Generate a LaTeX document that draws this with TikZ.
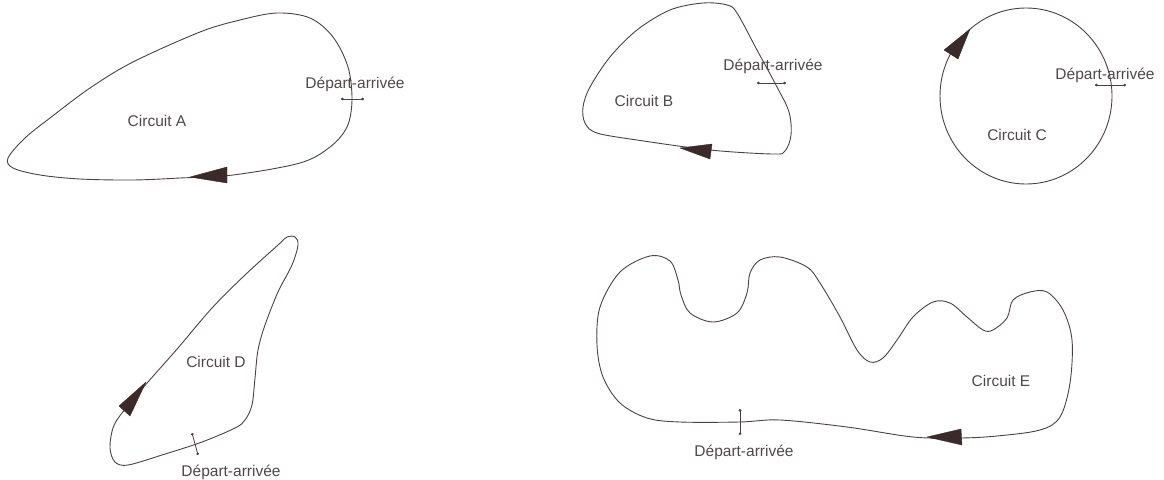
\documentclass[tikz,border=0pt]{standalone}
\usepackage{fontspec}
\setmainfont{Liberation Sans}
\usetikzlibrary{arrows.meta}
\definecolor{trackcol}{RGB}{78,64,64}
\definecolor{labelcol}{RGB}{80,72,72}
\definecolor{headcol}{RGB}{58,42,42}
\tikzset{
  track/.style={draw=trackcol, line width=0.9pt, line join=round},
  arrowhead/.style={fill=headcol, draw=headcol, line width=0.4pt, line join=round},
  tick/.style={draw=trackcol, line width=0.8pt, {Circle[length=2.6pt]}-{Circle[length=2.6pt]}},
  lbl/.style={text=labelcol, inner sep=0pt, font=\fontsize{15.5}{18}\selectfont}
}
\begin{document}
\begin{tikzpicture}[x=1pt, y=-1pt]
\useasboundingbox (0,0) rectangle (1164,479);

% ---- Circuit A ----
\draw[track] plot[smooth cycle, tension=0.55] coordinates {
  (8,158) (25,138) (50,118) (90,88) (133,62) (200,32) (240,20) (277,13)
  (310,18) (333,37) (348,67) (352,100) (347,127) (330,147) (300,163)
  (233,175) (180,178) (133,180) (80,179) (40,175) (13,168)};
\fill[arrowhead] (190,177) -- (227,167) -- (227,183) -- cycle;
\coordinate (ta1) at (341,99);
\coordinate (ta2) at (364,99);
\draw[tick] (ta1) -- (ta2);
\node[lbl] (nameA) at (157,121) {Circuit A};
\node[lbl] (startA) at (355,84) {Départ-arrivée};

% ---- Circuit B ----
\draw[track] plot[smooth cycle, tension=0.55] coordinates {
  (703,3) (727,5) (737,13) (757,50) (777,87) (789,112) (791,135)
  (785,151) (773,154) (710,150) (637,140) (597,133) (585,123) (583,107)
  (590,87) (610,57) (637,30) (670,10)};
\fill[arrowhead] (680,148) -- (712,144) -- (710,159) -- cycle;
\coordinate (tb1) at (757,83);
\coordinate (tb2) at (786,83);
\draw[tick] (tb1) -- (tb2);
\node[lbl] (nameB) at (644,101) {Circuit B};
\node[lbl] (startB) at (773,66) {Départ-arrivée};

% ---- Circuit C ----
\draw[track] (1026,96) ellipse [x radius=86pt, y radius=88pt];
\fill[arrowhead] (970,29) -- (944,50) -- (958,59) -- cycle;
\coordinate (tc1) at (1095,85);
\coordinate (tc2) at (1126,85);
\draw[tick] (tc1) -- (tc2);
\node[lbl] (nameC) at (1017,135) {Circuit C};
\node[lbl] (startC) at (1105,75) {Départ-arrivée};

% ---- Circuit D ----
\draw[track] plot[smooth cycle, tension=0.55] coordinates {
  (110,448) (113,428) (122,413) (148,382) (178,348) (212,308) (245,275)
  (278,245) (287,237) (295,237) (298,245) (292,265) (278,292) (265,325)
  (258,350) (255,378) (252,405) (245,420) (235,428) (202,442) (162,455)
  (128,465) (115,462)};
\fill[arrowhead] (146,382) -- (119,406) -- (130,416) -- cycle;
\coordinate (td1) at (192,433);
\coordinate (td2) at (198,455);
\draw[tick] (td1) -- (td2);
\node[lbl] (nameD) at (216,362) {Circuit D};
\node[lbl] (startD) at (231,472) {Départ-arrivée};

% ---- Circuit E ----
\draw[track] plot[smooth cycle, tension=0.55] coordinates {
  (597,345) (600,307) (620,272) (650,256) (670,261) (678,280) (681,295)
  (690,313) (713,322) (737,313) (747,293) (750,273) (760,260) (780,257)
  (807,267) (820,283) (840,317) (857,350) (870,362) (883,358) (897,340)
  (913,317) (933,302) (950,303) (967,317) (983,330) (993,330) (1007,318)
  (1013,300) (1030,292) (1047,292) (1063,310) (1072,340) (1070,383)
  (1060,417) (1040,430) (997,436) (960,438) (913,437) (847,427) (780,420)
  (740,422) (680,422) (647,418) (620,403) (603,377)};
\fill[arrowhead] (927,437) -- (961,429) -- (962,445) -- cycle;
\coordinate (te1) at (740,409);
\coordinate (te2) at (740,435);
\draw[tick] (te1) -- (te2);
\node[lbl] (nameE) at (1001,381) {Circuit E};
\node[lbl] (startE) at (744,452) {Départ-arrivée};
\end{tikzpicture}
\end{document}
